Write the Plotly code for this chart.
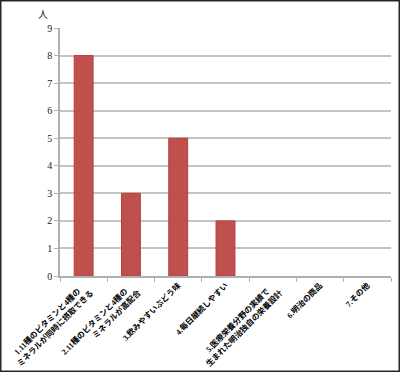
import plotly.graph_objects as go

categories = [
    "1.11種のビタミンと4種の\u3000<br>ミネラルが同時に摂取できる",
    "2.11種のビタミンと4種の\u3000<br>ミネラルが高配合",
    "3.飲みやすいぶどう味",
    "4.毎日継続しやすい",
    "5.医療栄養分野の実績で\u3000<br>生まれた明治独自の栄養設計",
    "6.明治の商品",
    "7.その他",
]
values = [8, 3, 5, 2, 0, 0, 0]
y_ticks = [0, 1, 2, 3, 4, 5, 6, 7, 8, 9]
unit_label = "人"

W, H = 400, 372
ml, mr, mt, mb = 60, 9, 28, 96
pw, ph = W - ml - mr, H - mt - mb

font_fam = "Liberation Serif, Noto Sans CJK JP, serif"

fig = go.Figure()
fig.add_trace(go.Bar(
    x=categories, y=values,
    marker=dict(color="#C0504D",
                line=dict(color="#B4413E", width=[1 if v > 0 else 0 for v in values])),
    width=0.4,
))

fig.update_layout(
    width=W, height=H,
    margin=dict(l=ml, r=mr, t=mt, b=mb, autoexpand=False),
    paper_bgcolor="white", plot_bgcolor="white",
    showlegend=False,
    font=dict(family=font_fam, size=9, color="#111"),
    xaxis=dict(
        automargin=False,
        showline=True, linecolor="#B0B0B0", linewidth=1.5,
        ticks="outside", ticklen=4, tickcolor="#B0B0B0",
        tickson="boundaries", tickangle=-45,
        tickfont=dict(size=8, family=font_fam, color="#000", weight=600),
        showgrid=False,
    ),
    yaxis=dict(
        automargin=False,
        range=[0, 9], tickvals=y_ticks, showgrid=True,
        gridcolor="#C4C4C4", gridwidth=1.5,
        showline=True, linecolor="#B0B0B0", linewidth=1.5,
        ticks="outside", ticklen=4, tickcolor="#B0B0B0",
        tickfont=dict(size=10, family=font_fam, color="#222"),
        zeroline=False,
    ),
)

fig.add_annotation(
    text=unit_label, xref="paper", yref="paper",
    x=-17 / pw, y=1 + 14 / ph, xanchor="center", yanchor="middle", showarrow=False,
    font=dict(size=10, family=font_fam, color="#222"),
)

fig.add_shape(
    type="rect", xref="paper", yref="paper",
    x0=(-ml + 0.75) / pw, x1=1 + (mr - 0.75) / pw,
    y0=(-mb + 0.75) / ph, y1=1 + (mt - 0.75) / ph,
    line=dict(color="#2A2522", width=1.5),
)

fig.write_html(
    "out.html",
    config={"displayModeBar": False},
    post_script="document.body.style.margin='0';document.body.style.overflow='hidden';",
)
